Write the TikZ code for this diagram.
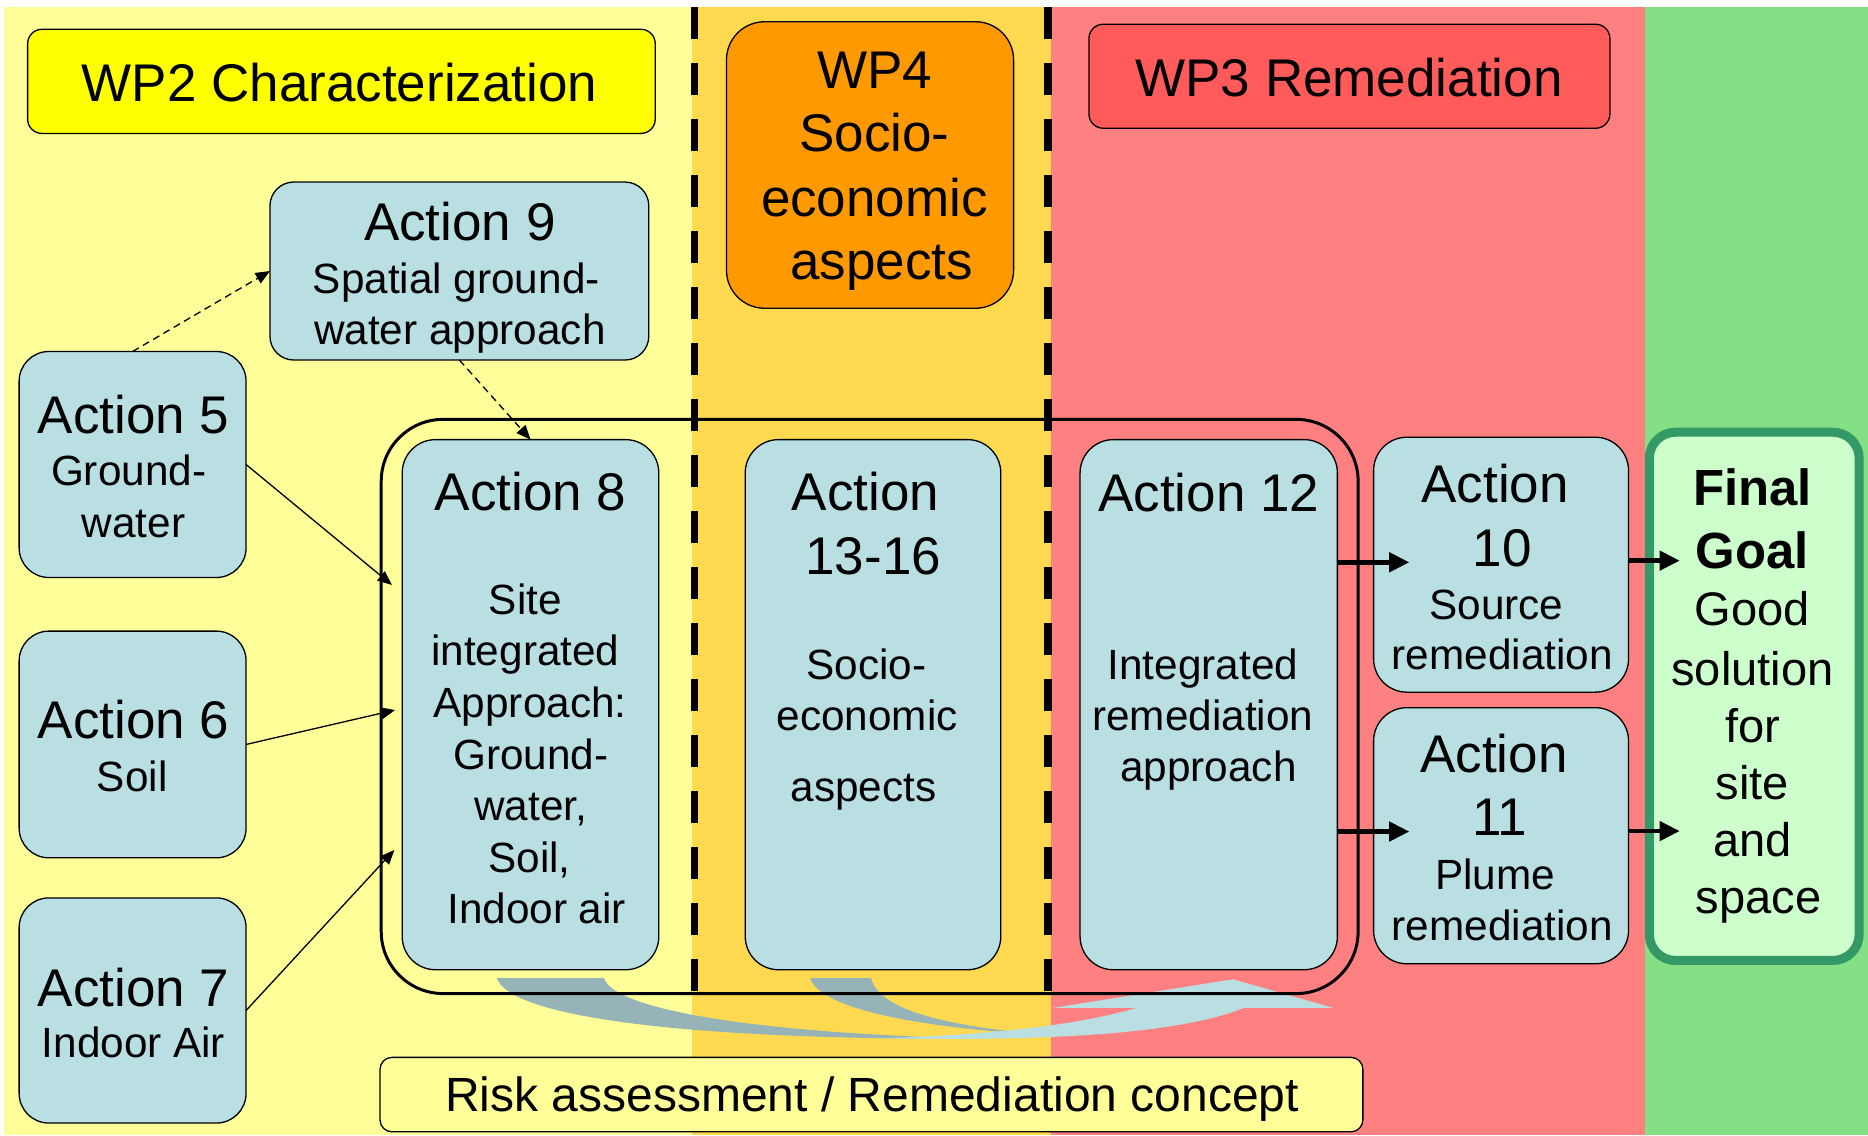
\documentclass[tikz,border=0pt]{standalone}
\usepackage{fontspec}
\setmainfont{Liberation Sans}
\usetikzlibrary{arrows.meta,calc}
\definecolor{bandY}{HTML}{FFFF99}
\definecolor{bandO}{HTML}{FFD950}
\definecolor{bandR}{HTML}{FF8080}
\definecolor{bandG}{HTML}{85E085}
\definecolor{boxB}{HTML}{B9DFE3}
\definecolor{wpY}{HTML}{FFFF00}
\definecolor{wpO}{HTML}{FF9900}
\definecolor{wpR}{HTML}{FF5B5B}
\definecolor{goalF}{HTML}{CCFFCC}
\definecolor{goalB}{HTML}{339966}
\definecolor{grayA}{HTML}{96B3B8}
\begin{document}
\begin{tikzpicture}[x=1pt,y=-1pt,
  box/.style={draw=black,line width=1.1pt,rectangle,inner sep=0pt,outer sep=0pt},
  abox/.style={box,fill=boxB,rounded corners=28pt},
  big/.style={anchor=base,inner sep=0pt,font=\fontsize{44.5}{53}\selectfont},
  small/.style={anchor=base,inner sep=0pt,font=\fontsize{35.5}{43}\selectfont},
  goalbold/.style={anchor=base,inner sep=0pt,font=\fontsize{42.7}{50}\selectfont\bfseries},
  goaltext/.style={anchor=base,inner sep=0pt,font=\fontsize{39.5}{48}\selectfont},
  conn/.style={line width=1.1pt,-{Triangle[length=12pt,width=10pt]}},
  dconn/.style={conn,dash pattern=on 6pt off 4pt},
  bigarrow/.style={line width=3.9pt,-{Triangle[length=17pt,width=16pt]}},
  sep/.style={line width=6.5pt,dash pattern=on 27pt off 20pt}
]
\fill[white] (0,0) rectangle (1568,953);
\useasboundingbox (0,0) rectangle (1568,953);
% bands
\fill[bandY] (3,5.6) rectangle (581,953);
\fill[bandO] (581,5.6) rectangle (882,953);
\fill[bandR] (882,5.6) rectangle (1381,953);
\fill[bandG] (1381,5.6) rectangle (1568,953);

% curved arrows at the bottom
\fill[grayA] (417,821) -- (507,821) .. controls (515,848) and (640,868) .. (830,872)
  .. controls (560,873) and (428,852) .. (417,821) -- cycle;
\fill[grayA] (680,821) -- (731,821) .. controls (738,845) and (780,860) .. (880,869)
  .. controls (760,862) and (688,845) .. (680,821) -- cycle;
\fill[boxB] (740,871.5) .. controls (880,874) and (990,868) .. (1044,846) -- (1119,846)
  -- (1035,822) -- (884,846) -- (954,846) .. controls (900,862) and (820,869) .. (740,871.5) -- cycle;

% container
\node[draw=black,line width=2.5pt,rounded corners=52pt,minimum width=820pt,minimum height=482pt,inner sep=0pt,outer sep=0pt] (cont) at (730,593) {};

% separators
\draw[sep] (583,5.6) -- (583,832);
\draw[sep] (879.5,5.6) -- (879.5,832);

% WP headers
\node[box,fill=wpY,rounded corners=12pt,minimum width=526.8pt,minimum height=87.4pt] (wp2) at (286.6,68.3) {};
\node[big] (wp2t) at (285,85.4) {WP2 Characterization};
\node[box,fill=wpO,rounded corners=32pt,minimum width=241pt,minimum height=240.5pt] (wp4) at (730.3,138.5) {};
\node[big] (wp4a) at (734,74) {WP4};
\node[big] (wp4b) at (734,127.3) {Socio-};
\node[big] (wp4c) at (734,181.9) {economic};
\node[big] (wp4d) at (740,235) {aspects};
\node[box,fill=wpR,rounded corners=12pt,minimum width=437.3pt,minimum height=87.3pt] (wp3) at (1132.7,64) {};
\node[big] (wp3t) at (1132.4,81.2) {WP3 Remediation};

% Action 9
\node[abox,rounded corners=20pt,minimum width=318pt,minimum height=149.4pt] (a9) at (385.6,227.5) {};
\node[big] (a9a) at (386,201.5) {Action 9};
\node[small] (a9b) at (383,246) {Spatial ground-};
\node[small] (a9c) at (386,289) {water approach};

% Actions 5,6,7
\node[abox,rounded corners=25pt,minimum width=190.5pt,minimum height=189.7pt] (a5) at (111.3,389.9) {};
\node[big] (a5a) at (112,364) {Action 5};
\node[small] (a5b) at (108,407.6) {Ground-};
\node[small] (a5c) at (112,451.4) {water};
\node[abox,rounded corners=25pt,minimum width=190.5pt,minimum height=190.3pt] (a6) at (111.3,624.9) {};
\node[big] (a6a) at (112,619.5) {Action 6};
\node[small] (a6b) at (111,664.6) {Soil};
\node[abox,rounded corners=25pt,minimum width=190.5pt,minimum height=189pt] (a7) at (111.3,848.2) {};
\node[big] (a7a) at (112,844.5) {Action 7};
\node[small] (a7b) at (112,888) {Indoor Air};

% Action 8
\node[abox,minimum width=215.4pt,minimum height=445pt] (a8) at (445.3,591.5) {};
\node[big] (a8a) at (445.5,428.4) {Action 8};
\node[small] (a8b) at (441,516) {Site};
\node[small] (a8c) at (441,559) {integrated};
\node[small] (a8d) at (445,602) {Approach:};
\node[small] (a8e) at (445.5,646) {Ground-};
\node[small] (a8f) at (445.5,689) {water,};
\node[small] (a8g) at (444.5,732) {Soil,};
\node[small] (a8h) at (450.5,775) {Indoor air};

% Action 13-16
\node[abox,minimum width=214.5pt,minimum height=445pt] (a13) at (732.8,591.5) {};
\node[big] (a13a) at (726.5,428.4) {Action};
\node[big] (a13b) at (733,482) {13-16};
\node[small] (a13c) at (727.4,570) {Socio-};
\node[small] (a13d) at (728,613) {economic};
\node[small] (a13e) at (724.7,673) {aspects};

% Action 12
\node[abox,minimum width=216pt,minimum height=445pt] (a12) at (1014.6,591.5) {};
\node[big] (a12a) at (1014.7,429) {Action 12};
\node[small] (a12b) at (1009.7,570.6) {Integrated};
\node[small] (a12c) at (1009.6,613) {remediation};
\node[small] (a12d) at (1014.3,655.6) {approach};

% Action 10, 11
\node[abox,minimum width=214pt,minimum height=214pt] (a10) at (1260,474) {};
\node[big] (a10a) at (1255,421.8) {Action};
\node[big] (a10b) at (1261,475.5) {10};
\node[small] (a10c) at (1256,520.3) {Source};
\node[small] (a10d) at (1261,562) {remediation};
\node[abox,minimum width=214pt,minimum height=215pt] (a11) at (1260,701.5) {};
\node[big] (a11a) at (1254,648.6) {Action};
\node[big] (a11b) at (1259,701.5) {11};
\node[small] (a11c) at (1255,746.3) {Plume};
\node[small] (a11d) at (1261,789.8) {remediation};

% Final goal
\node[draw=goalB,fill=goalF,line width=7.6pt,rounded corners=22pt,minimum width=176.2pt,minimum height=443.4pt,inner sep=0pt,outer sep=0pt] (goal) at (1472.5,584.5) {};
\node[goalbold] (g1) at (1471,424) {Final};
\node[goalbold] (g2) at (1471,477) {Goal};
\node[goaltext] (g3) at (1471,525) {Good};
\node[goaltext] (g4) at (1471,575) {solution};
\node[goaltext] (g5) at (1471,623) {for};
\node[goaltext] (g6) at (1471,671) {site};
\node[goaltext] (g7) at (1471,719) {and};
\node[goaltext] (g8) at (1476,767) {space};

% bottom box
\node[box,fill=bandY,rounded corners=10pt,minimum width=825pt,minimum height=62.5pt] (risk) at (731.5,918.8) {};
\node[anchor=base,inner sep=0pt,font=\fontsize{40.3}{48}\selectfont] (riskt) at (732,933) {Risk assessment / Remediation concept};

% connectors
\coordinate (t5) at (329,491);
\coordinate (t6) at (331.6,596);
\coordinate (t7) at (331,713.5);
\draw[conn] (a5.east) -- (t5);
\draw[conn] (a6.east) -- (t6);
\draw[conn] (a7.east) -- (t7);
\draw[dconn] (a5.north) -- (a9.west);
\draw[dconn] (a9.south) -- (a8.north);

\coordinate (h10) at (1183,472);
\coordinate (h11) at (1183,698);
\coordinate (g10) at (1410,470.6);
\coordinate (g11) at (1410,697.6);
\draw[bigarrow] (a12.east |- h10) -- (h10);
\draw[bigarrow] (a12.east |- h11) -- (h11);
\draw[bigarrow] (a10.east |- g10) -- (g10);
\draw[bigarrow] (a11.east |- g11) -- (g11);
\end{tikzpicture}
\end{document}
